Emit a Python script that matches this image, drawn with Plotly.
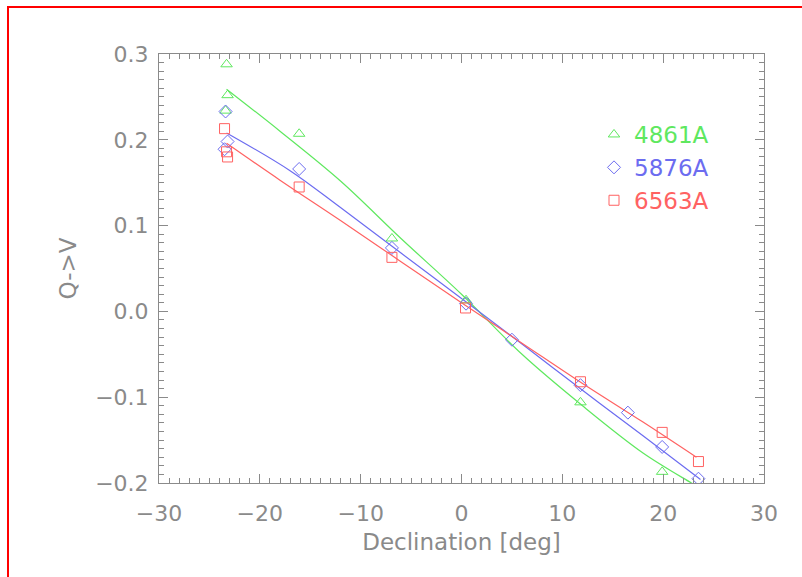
import plotly.graph_objects as go

# ---- data ----
green_name = "4861A"
blue_name = "5876A"
red_name = "6563A"

green_x = [-23.3, -23.2, -23.4, -16.1, -6.9, 0.45, 11.8, 19.9, 23.5]
green_y = [0.288, 0.252, 0.234, 0.207, 0.085, 0.013, -0.106, -0.187, -0.206]

blue_x = [-23.4, -23.2, -23.5, -16.1, -6.9, 0.45, 5.0, 11.8, 16.5, 19.9, 23.5]
blue_y = [0.233, 0.198, 0.189, 0.166, 0.074, 0.009, -0.033, -0.086, -0.118, -0.158, -0.195]

red_x = [-23.5, -23.3, -23.2, -16.1, -6.9, 0.4, 11.8, 19.9, 23.5]
red_y = [0.213, 0.186, 0.180, 0.145, 0.063, 0.004, -0.082, -0.141, -0.175]

# fitted curves
green_fit_x = [-23.3, -18, -12, -6, 0, 6, 12, 18, 22.8, 23.5]
green_fit_y = [0.259, 0.210, 0.152, 0.085, 0.020, -0.050, -0.110, -0.165, -0.200, -0.205]
blue_fit_x = [-23.3, -17, -12, -6, 0, 6, 12, 18, 23.7]
blue_fit_y = [0.208, 0.164, 0.121, 0.068, 0.015, -0.038, -0.092, -0.145, -0.196]
red_fit_x = [-23.3, -18, -12, -6, 0, 6, 12, 18, 23.3]
red_fit_y = [0.196, 0.153, 0.106, 0.058, 0.010, -0.037, -0.084, -0.129, -0.170]

x_range = [-30, 30]
y_range = [-0.2, 0.3]

GREEN = "#5fe85f"
BLUE = "#6c6cf0"
RED = "#ff6262"
GRAY = "#8a8a8a"
FONT = "DejaVu Sans"

fig = go.Figure()

series = [
    (green_name, green_x, green_y, green_fit_x, green_fit_y, GREEN, "triangle-up-open", 10),
    (blue_name, blue_x, blue_y, blue_fit_x, blue_fit_y, BLUE, "diamond-open", 10),
    (red_name, red_x, red_y, red_fit_x, red_fit_y, RED, "square-open", 10),
]

for name, xs, ys, fx, fy, col, sym, sz in series:
    fig.add_trace(go.Scatter(
        x=fx, y=fy, mode="lines", line=dict(color=col, width=1.2, shape="spline", smoothing=1.0),
        showlegend=False, hoverinfo="skip"))

for name, xs, ys, fx, fy, col, sym, sz in series:
    fig.add_trace(go.Scatter(
        x=xs, y=ys, mode="markers",
        marker=dict(symbol=sym, size=sz, color=col, line=dict(color=col, width=1)),
        name=f'<span style="color:{col}">{name}</span>', legendgroup=name,
        cliponaxis=True))

axis_common = dict(
    showgrid=False, zeroline=False, showline=True, linecolor=GRAY, linewidth=1,
    mirror="allticks", ticks="inside", ticklen=9, tickwidth=1, tickcolor=GRAY,
    tickfont=dict(family=FONT, size=22, color=GRAY),
)

fig.update_xaxes(range=x_range, dtick=10, tick0=0, tickformat="d", ticklabelstandoff=11,
                 minor=dict(dtick=1, ticks="inside", ticklen=5, tickcolor=GRAY),
                 title=dict(text="Declination [deg]", font=dict(family=FONT, size=23, color=GRAY), standoff=8),
                 **axis_common)
fig.update_yaxes(range=y_range, dtick=0.1, tick0=0, tickformat=".1f", ticklabelstandoff=5,
                 minor=dict(dtick=0.01, ticks="inside", ticklen=5, tickcolor=GRAY),
                 title=dict(text="Q->V", font=dict(family=FONT, size=23, color=GRAY), standoff=12),
                 **axis_common)

fig.update_layout(
    width=802, height=577,
    margin=dict(l=159, r=38, t=54, b=94),
    paper_bgcolor="white", plot_bgcolor="white",
    showlegend=True,
    legend=dict(x=(594 - 159) / 605, y=(483 - 113) / 429, xanchor="left", yanchor="top",
                bgcolor="rgba(0,0,0,0)", font=dict(family=FONT, size=23),
                itemsizing="trace", tracegroupgap=0),
    shapes=[dict(type="rect", xref="paper", yref="paper",
                 x0=(8 - 159) / 605, x1=(820 - 159) / 605,
                 y0=(483 - 600) / 429, y1=(483 - 7) / 429,
                 line=dict(color="red", width=2), fillcolor="rgba(0,0,0,0)", layer="above")],
)

fig.write_html("out.html")
